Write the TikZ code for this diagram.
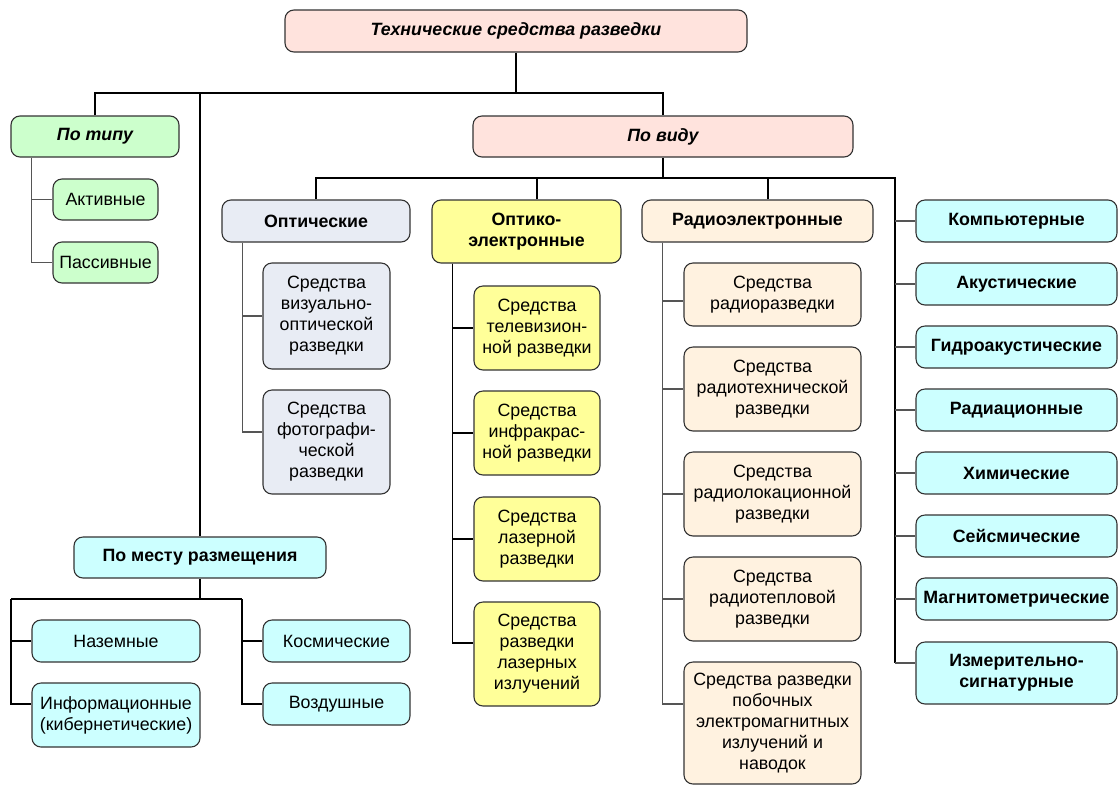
\documentclass[tikz,border=0pt]{standalone}
\usepackage{fontspec}
\setmainfont{Liberation Sans}
\definecolor{cpink}{HTML}{FFE3DD}
\definecolor{cgreen}{HTML}{CCFFCC}
\definecolor{cgrey}{HTML}{E8ECF4}
\definecolor{cyel}{HTML}{FFFF99}
\definecolor{cpeach}{HTML}{FFF2E0}
\definecolor{ccyan}{HTML}{CCFFFF}
\definecolor{edge}{HTML}{333333}
\definecolor{twig}{HTML}{555555}
\tikzset{
  box/.style={draw=edge, line width=1.1pt, rounded corners=9pt, align=center,
    inner sep=0pt, font=\fontsize{17.8}{21}\selectfont},
  head/.style={box, font=\fontsize{17.8}{21}\selectfont\bfseries},
  headit/.style={box, font=\fontsize{17.8}{21}\selectfont\bfseries\itshape},
  trunk/.style={draw=black, line width=1.6pt},
  twigline/.style={draw=twig, line width=1.1pt},
  midline/.style={draw=black, line width=1.3pt},
}
\begin{document}
\begin{tikzpicture}[x=1pt, y=-1pt]
\useasboundingbox (0,0) rectangle (1118,785);

% top level
\node[headit, fill=cpink, minimum width=462, minimum height=42] (top) at (516,31) {Технические средства разведки};
\node[headit, fill=cgreen, minimum width=168, minimum height=41] (ptype) at (95,136.5) {По типу};
\node[headit, fill=cpink, minimum width=380, minimum height=41] (pvid) at (663,136.5) {По виду};

% by type
\node[box, fill=cgreen, minimum width=105, minimum height=41] (act) at (105.5,199.5) {Активные};
\node[box, fill=cgreen, minimum width=105, minimum height=41] (pas) at (105.5,262.5) {Пассивные};

% by kind: category heads
\node[head, fill=cgrey, minimum width=188, minimum height=42] (opt) at (316,221) {Оптические};
\node[head, fill=cyel, minimum width=189, minimum height=63] (oe) at (526.5,231.5) {Оптико-\\электронные};
\node[head, fill=cpeach, minimum width=231, minimum height=42] (re) at (757.5,221) {Радиоэлектронные};

% optical
\node[box, fill=cgrey, minimum width=127, minimum height=106] (vis) at (326.5,316) {Средства\\визуально-\\оптической\\разведки};
\node[box, fill=cgrey, minimum width=127, minimum height=104] (foto) at (326.5,442) {Средства\\фотографи-\\ческой\\разведки};

% opto-electronic
\node[box, fill=cyel, minimum width=126, minimum height=84] (tv) at (537,328) {Средства\\телевизион-\\ной разведки};
\node[box, fill=cyel, minimum width=126, minimum height=84] (ir) at (537,433) {Средства\\инфракрас-\\ной разведки};
\node[box, fill=cyel, minimum width=126, minimum height=84] (laz) at (537,539) {Средства\\лазерной\\разведки};
\node[box, fill=cyel, minimum width=126, minimum height=104] (izl) at (537,654) {Средства\\разведки\\лазерных\\излучений};

% radio-electronic
\node[box, fill=cpeach, minimum width=177, minimum height=63] (r1) at (772.5,294.5) {Средства\\радиоразведки};
\node[box, fill=cpeach, minimum width=177, minimum height=84] (r2) at (772.5,389) {Средства\\радиотехнической\\разведки};
\node[box, fill=cpeach, minimum width=177, minimum height=84] (r3) at (772.5,494) {Средства\\радиолокационной\\разведки};
\node[box, fill=cpeach, minimum width=177, minimum height=84] (r4) at (772.5,599) {Средства\\радиотепловой\\разведки};
\node[box, fill=cpeach, minimum width=177, minimum height=122] (r5) at (772.5,723) {Средства разведки\\побочных\\электромагнитных\\излучений и\\наводок};

% other kinds
\node[head, fill=ccyan, minimum width=201, minimum height=42] (k1) at (1016.5,221) {Компьютерные};
\node[head, fill=ccyan, minimum width=201, minimum height=42] (k2) at (1016.5,284) {Акустические};
\node[head, fill=ccyan, minimum width=201, minimum height=42] (k3) at (1016.5,347) {Гидроакустические};
\node[head, fill=ccyan, minimum width=201, minimum height=42] (k4) at (1016.5,410) {Радиационные};
\node[head, fill=ccyan, minimum width=201, minimum height=42] (k5) at (1016.5,473) {Химические};
\node[head, fill=ccyan, minimum width=201, minimum height=42] (k6) at (1016.5,536) {Сейсмические};
\node[head, fill=ccyan, minimum width=201, minimum height=42] (k7) at (1016.5,599) {Магнитометрические};
\node[head, fill=ccyan, minimum width=201, minimum height=62] (k8) at (1016.5,673) {Измерительно-\\сигнатурные};

% by placement
\node[head, fill=ccyan, minimum width=252, minimum height=41] (pmr) at (200,557.5) {По месту размещения};
\node[box, fill=ccyan, minimum width=168, minimum height=42] (naz) at (116,641) {Наземные};
\node[box, fill=ccyan, minimum width=168, minimum height=64] (inf) at (116,715) {Информационные\\(кибернетические)};
\node[box, fill=ccyan, minimum width=147, minimum height=42] (kos) at (336.5,641) {Космические};
\node[box, fill=ccyan, minimum width=147, minimum height=42] (voz) at (336.5,704) {Воздушные};

% junction points
\coordinate (j1) at (516,93);
\coordinate (j2) at (663,178);
\coordinate (rb) at (895,178);
\coordinate (j4) at (200,599);
\coordinate (lb) at (11,599);
\coordinate (rb2) at (242,599);
\coordinate (oeN) at ([xshift=10.5pt]oe.north);
\coordinate (reN) at ([xshift=10.5pt]re.north);
\coordinate (optv) at ([xshift=21pt]opt.south west);
\coordinate (oev) at ([xshift=21pt]oe.south west);
\coordinate (rev) at ([xshift=21pt]re.south west);
\coordinate (ptv) at ([xshift=21pt]ptype.south west);
\coordinate (fotoB) at ([yshift=10pt]foto.west);
\coordinate (izlB) at ([yshift=11pt]izl.west);
\coordinate (r1B) at ([yshift=-6.5pt]r1.west);
\coordinate (r5B) at ([yshift=19pt]r5.west);
\coordinate (k8B) at ([yshift=10pt]k8.west);
\coordinate (infB) at ([yshift=11pt]inf.west);

% trunk
\draw[trunk] (top.south) -- (j1);
\draw[trunk] (ptype.north) |- (j1) -| (pvid.north);
\draw[trunk] (pmr.north) -- (pmr.north |- j1);
\draw[trunk] (pvid.south) -- (j2);
\draw[trunk] (opt.north) |- (rb) -- (rb |- k8B);
\draw[trunk] (oeN) -- (oeN |- j2);
\draw[trunk] (reN) -- (reN |- j2);

% by type branches
\draw[twigline] (ptv) |- (act.west);
\draw[twigline] (ptv) |- (pas.west);

% optical branches
\draw[twigline] (optv) |- (vis.west);
\draw[twigline] (optv) |- (fotoB);

% opto-electronic branches
\draw[trunk] (oev) |- (tv.west);
\draw[trunk] (oev) |- (ir.west);
\draw[trunk] (oev) |- (laz.west);
\draw[trunk] (oev) |- (izlB);

% radio-electronic branches
\draw[twigline] (rev) |- (r1B);
\draw[twigline] (rev) |- (r2.west);
\draw[twigline] (rev) |- (r3.west);
\draw[twigline] (rev) |- (r4.west);
\draw[twigline] (rev) |- (r5B);

% other kinds branches
\foreach \k in {k1,k2,k3,k4,k5,k6,k7}
  \draw[twigline] (rb |- \k.west) -- (\k.west);
\draw[twigline] (rb |- k8B) -- (k8B);

% placement branches
\draw[midline] (pmr.south) -- (j4);
\draw[midline] (lb) -- (rb2);
\draw[midline] (lb) |- (naz.west);
\draw[midline] (lb) |- (infB);
\draw[midline] (rb2) |- (kos.west);
\draw[midline] (rb2) |- (voz.west);
\end{tikzpicture}
\end{document}
